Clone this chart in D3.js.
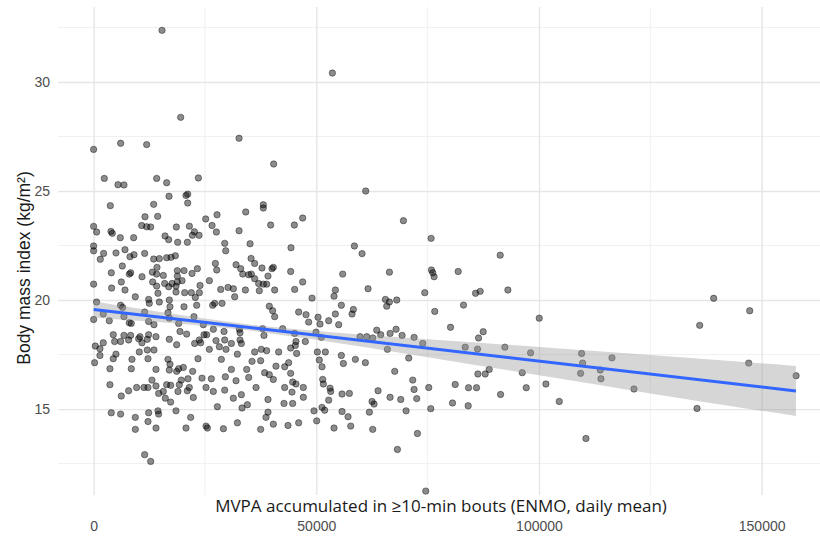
<!DOCTYPE html>
<html>

<head>
  <script src="https://d3js.org/d3.v7.min.js"></script>
  <style>
    body { margin: 0; background: #fff; }
    text { font-family: "Open Sans", "Noto Sans", sans-serif; }
  </style>
</head>

<body>
  <svg id="bmi" height="536" width="820"></svg>
  <script>
    // values (x = MVPA, y = BMI), same order in both arrays
    const mvpa = [
      15355, 19549, 32656, 0, 6067, 11909, 2397, 5468, 6816, 14156,
      16403, 23519, 16927, 20747, 21122, 21122, 13482, 3745, 11535, 14381,
      25166, 27713, 34154, 0, 674, 3895, 4194, 5992, 8988, 10786,
      11909, 12808, 18575, 21496, 22620, 22170, 23668, 16029, 16853, 18875,
      21047, 26590, 27563, 32656, 29436, 29660, 35128, 0, 0, 2247,
      5018, 7041, 9063, 8164, 11460, 13482, 14755, 16403, 17377, 18351,
      35353, 1498,
      14231, 6441, 3970, 8014, 8314, 10861, 13182, 14156, 15654, 18800, 18800, 20298, 22096, 23294, 27638, 27338, 31982, 33031, 33480, 34828,
      0, 4045, 6217, 7041, 13257, 14156, 15954, 16853, 17602, 18800, 18500, 19849, 23893, 25990, 28537, 30185, 31383, 34080,
      12209, 9362, 14006, 20747, 25241, 25541, 29136, 32282, 11460, 12808,
      53606, 40424, 61096, 38102, 38102, 39749, 45067, 46940, 69560, 75776, 44318, 58549, 60272,
      36155, 37802, 35406, 36155, 37053, 38102, 39151, 40349, 40049, 37203, 38851, 40649, 44244, 45143, 46940, 55928, 54280, 61621, 66414, 75852, 76151, 76451,
      40349, 37503, 43645, 46041, 50086, 57726, 53980, 62669, 72706, 68212, 74579,
      91296, 81858, 85753, 86802, 93018, 83057, 100059, 139232, 147321, 136086, 80136, 87476, 86427, 83431, 86202, 92344, 98112, 109571, 109796, 116387,
      113766, 113916, 109347, 88824, 86277, 87925, 96239, 81184, 84180, 85978, 97138, 101557, 121331, 147096, 157732, 91371, 80585, 84105, 104553, 135487, 110545,
      // dense block, left part
      9355, 12351, 12501, 14448, 14748, 16995, 17144, 18493, 20440, 21938, 22837, 23136, 23736, 26732, 27181, 28829, 31675, 666, 6059, 6509, 20290,
      0, 2164, 3513, 6808, 8007, 8456, 11452, 12351, 13549, 16695, 16995, 19092, 19391, 22537, 24634, 25383, 26881, 29278, 32724, 32873,
      367, 1415, 2164, 4411, 4711, 6059, 6808, 7857, 8306, 10104, 10403, 10853, 12351, 12051, 13999, 10254, 12051, 13549, 16995, 18642,
      20889, 22687, 23736, 24035, 24784, 25983, 27481, 28230, 29728, 29428, 30926, 32873, 33173, 32274, 36169, 5011, 4411, 1415, 217,
      8606, 8456, 12201, 13999, 16695, 17144, 16995, 18642, 19092, 20140, 19691, 21189, 22238, 23436, 24335, 28679, 26432, 29578, 30926, 31975,
      34371, 34821, 35570, 3662, 3662, 13100,
      6209, 7857, 9654, 11302, 12201, 13999, 16396, 17294, 15646, 14598, 16096, 17294, 18942, 19242, 21039, 21489, 22387, 25234, 26881, 29428,
      31375, 33173, 36469, 3962, 6059, 9355, 12351, 14448, 14598, 18493, 21788, 27780, 33323, 34521,
      // dense block, right part
      49035, 53979, 65513, 65813, 66412, 68060, 74352, 39448, 40197, 40647, 46039, 47687, 48286, 50384, 50833, 52780, 54278, 55627, 55027, 58023,
      58323, 76599, 37950, 38250, 42444, 45141, 49934, 51133, 47537, 45440, 59821, 61319, 62667, 63566, 64465, 66562, 67910, 69258, 71955, 73902,
      37651, 38849, 41545, 44242, 45290, 45590, 50234, 52031, 50683, 51282, 55627, 56076, 58772, 61019, 65963, 70756, 40946, 42894, 43792, 37501,
      38400, 39448, 40347, 44242, 44691, 45440, 42894, 44541, 47088, 51432, 51582, 53080, 53230, 55776, 57424, 67611, 71655, 71955, 75250, 63866,
      39149, 42744, 44691, 47088, 52780, 51282, 51882, 49485, 55776, 57125, 62517, 62967, 66562, 68959, 61918, 70157, 72554, 75700, 39149, 38701
    ];
    const bmi = [
      32.37, 28.38, 27.42, 26.91, 27.19, 27.13, 25.58, 25.29, 25.28, 25.58,
      25.38, 25.60, 24.76, 24.80, 24.86, 24.45, 24.39, 24.33, 23.82, 23.84,
      23.72, 23.91, 24.04, 23.38, 23.12, 23.15, 23.06, 22.86, 22.86, 23.42,
      23.36, 23.35, 23.35, 23.39, 23.13, 22.97, 22.97, 22.94, 22.77, 22.65,
      22.65, 23.42, 23.12, 23.18, 22.60, 22.26, 22.58, 22.48, 22.26, 22.14,
      22.16, 22.31, 22.08, 21.99, 22.14, 21.88, 21.90, 21.94, 21.96, 22.03,
      21.91, 21.87,
      21.50, 21.56, 21.25, 21.19, 21.25, 21.07, 21.28, 21.19, 21.13, 21.35, 21.10, 21.35, 21.22, 21.44, 21.38, 21.68, 21.62, 21.44, 21.19, 21.16,
      20.73, 20.55, 20.83, 20.46, 20.83, 20.64, 20.76, 20.61, 20.76, 20.83, 20.64, 20.89, 20.67, 20.89, 20.49, 20.58, 20.52, 20.46,
      14.43, 14.07, 14.13, 14.13, 14.22, 14.13, 14.10, 14.37, 12.91, 12.60,
      30.41, 26.24, 25.00, 24.37, 24.22, 23.44, 23.44, 23.76, 23.64, 22.83, 22.40, 22.48, 22.13,
      21.68, 21.47, 21.19, 20.98, 20.76, 20.73, 21.10, 21.50, 21.44, 20.43, 20.73, 20.46, 21.31, 20.49, 20.83, 21.19, 20.46, 20.52, 21.28, 21.38, 21.25, 21.07,
      14.31, 14.07, 14.25, 14.37, 14.46, 14.22, 14.13, 14.07, 13.88, 13.15, 11.24,
      22.06, 21.31, 20.31, 20.40, 20.46, 19.77, 19.17, 20.08, 19.51, 18.84, 18.75, 18.55, 18.26, 17.84, 17.75, 17.84, 17.58, 17.55, 17.11, 17.35,
      16.79, 16.39, 16.64, 16.82, 16.61, 16.61, 16.67, 16.13, 15.98, 15.98, 15.98, 16.15, 15.92, 17.11, 16.53, 15.67, 15.28, 15.15, 15.35, 15.03, 13.65,
      // dense block, left part
      20.15, 20.03, 19.85, 20.31, 19.91, 20.00, 19.69, 20.37, 20.34, 20.34, 20.12, 19.76, 20.34, 19.76, 19.85, 19.85, 20.15, 19.91, 19.76, 19.66, 19.69,
      19.11, 19.36, 19.05, 19.24, 18.96, 18.93, 19.45, 19.02, 18.87, 19.42, 19.17, 18.93, 18.56, 19.24, 18.87, 18.41, 18.66, 18.56, 18.66, 18.50,
      17.89, 17.77, 18.04, 18.41, 18.10, 18.10, 18.38, 18.17, 18.38, 18.23, 18.32, 18.04, 18.41, 18.20, 18.32, 17.62, 17.71, 17.71, 18.20, 17.95,
      18.44, 18.01, 18.17, 18.04, 18.41, 17.74, 18.14, 17.86, 17.74, 18.17, 18.01, 18.17, 18.01, 17.52, 17.62, 17.52, 17.31, 17.46, 17.13,
      17.28, 16.85, 17.31, 16.82, 17.28, 17.06, 16.79, 16.73, 16.85, 16.91, 16.33, 16.39, 16.73, 17.31, 16.42, 17.28, 16.39, 16.48, 16.82, 16.30,
      16.82, 16.45, 17.19, 16.85, 16.12, 16.33,
      15.60, 15.84, 15.99, 15.99, 15.99, 16.06, 16.12, 16.09, 15.81, 15.72, 15.50, 15.32, 15.81, 16.12, 15.84, 15.99, 15.53, 15.99, 15.81, 15.87,
      15.50, 15.66, 15.99, 14.83, 14.77, 14.62, 14.83, 14.92, 14.77, 14.92, 14.62, 15.11, 15.05, 15.20,
      // dense block, right part
      20.09, 20.18, 20.03, 19.72, 19.91, 20.00, 20.34, 19.72, 19.51, 19.24, 19.45, 19.33, 18.99, 19.21, 18.90, 19.05, 19.36, 19.76, 18.87, 19.36,
      19.57, 19.48, 18.69, 18.38, 18.69, 18.47, 18.53, 18.29, 18.10, 18.10, 18.32, 18.32, 18.26, 18.62, 18.41, 18.47, 18.66, 18.38, 18.29, 18.01,
      17.74, 17.68, 17.62, 17.80, 17.92, 17.55, 17.62, 17.62, 17.25, 16.94, 17.46, 17.09, 17.28, 17.13, 17.74, 17.34, 16.97, 16.94, 17.13, 17.22,
      16.67, 16.58, 16.36, 16.64, 16.24, 16.15, 15.99, 15.78, 15.99, 16.36, 16.15, 15.96, 15.81, 15.69, 15.72, 16.73, 16.33, 15.90, 15.99, 15.84,
      15.44, 15.26, 15.26, 15.54, 15.41, 15.08, 14.95, 14.92, 14.89, 14.65, 15.35, 15.23, 15.54, 15.44, 14.86, 14.92, 15.48, 15.02, 14.86, 14.62
    ];

    // linear fit and its confidence band
    const fitX = [0, 157700];
    const fitY = [19.57, 15.83];
    const bandX = [0, 10000, 20000, 35000, 50000, 75000, 100000, 125000, 157700];
    const bandLow = [19.20, 19.05, 18.90, 18.60, 18.18, 17.38, 16.55, 15.72, 14.68];
    const bandHigh = [19.94, 19.61, 19.30, 18.88, 18.58, 18.20, 17.85, 17.48, 16.98];

    const xTicks = [0, 50000, 100000, 150000];
    const xMinor = [25000, 75000, 125000];
    const yTicks = [15, 20, 25, 30];
    const yMinor = [12.5, 17.5, 22.5, 27.5, 32.5];

    const data = d3.zip(mvpa, bmi);

    let svg = d3.select('svg#bmi');
    const panel = { left: 58, right: 820, top: 7, bottom: 495 };
    const xScale = d3.scaleLinear().domain([-8000, 163100]).range([panel.left, panel.right]);
    const yScale = d3.scaleLinear().domain([11.06, 33.44]).range([panel.bottom, panel.top]);

    //gridlines
    let grid = svg.append('g');
    grid.selectAll('line.vminor').data(xMinor)
      .join('line')
      .attr('x1', d => xScale(d)).attr('x2', d => xScale(d))
      .attr('y1', panel.top).attr('y2', panel.bottom)
      .attr('stroke', '#f0f0f0').attr('stroke-width', 1);
    grid.selectAll('line.hminor').data(yMinor)
      .join('line')
      .attr('y1', d => yScale(d)).attr('y2', d => yScale(d))
      .attr('x1', panel.left).attr('x2', panel.right)
      .attr('stroke', '#f0f0f0').attr('stroke-width', 1);
    let verticalGridlines = d3.axisBottom(xScale).tickValues(xTicks).tickSize(-(panel.bottom - panel.top)).tickFormat("");
    grid.append('g')
      .attr('class', 'vgridlines')
      .attr('transform', `translate(0,${panel.bottom})`)
      .call(verticalGridlines);
    let horizontalGridlines = d3.axisLeft(yScale).tickValues(yTicks).tickSize(-(panel.right - panel.left)).tickFormat("");
    grid.append('g')
      .attr('class', 'hgridlines')
      .attr('transform', `translate(${panel.left},0)`)
      .call(horizontalGridlines);
    grid.selectAll('.domain').remove();
    grid.selectAll('.tick line').attr('stroke', '#e6e6e6').attr('stroke-width', 1.4);

    //points
    svg.append('g').selectAll('circle').data(data)
      .join('circle')
      .attr('cx', d => xScale(d[0]))
      .attr('cy', d => yScale(d[1]))
      .attr('r', 3.2)
      .attr('fill', '#000')
      .attr('fill-opacity', 0.45)
      .attr('stroke', '#000')
      .attr('stroke-opacity', 0.5)
      .attr('stroke-width', 0.8);

    //confidence band and fit
    const band = d3.area()
      .x(d => xScale(d[0]))
      .y0(d => yScale(d[1]))
      .y1(d => yScale(d[2]))
      .curve(d3.curveMonotoneX);
    svg.append('path')
      .datum(d3.zip(bandX, bandLow, bandHigh))
      .attr('d', band)
      .attr('fill', '#999999')
      .attr('fill-opacity', 0.4);
    svg.append('path')
      .datum(d3.zip(fitX, fitY))
      .attr('d', d3.line().x(d => xScale(d[0])).y(d => yScale(d[1])))
      .attr('fill', 'none')
      .attr('stroke', '#3366ff')
      .attr('stroke-width', 3);

    //tick labels
    const tickFont = '"Liberation Sans", Arial, sans-serif';
    let bottomAxis = d3.axisBottom(xScale).tickValues(xTicks).tickSize(0).tickPadding(0).tickFormat(d3.format('d'));
    let xAxis = svg.append('g')
      .attr('transform', 'translate(0,531)')
      .call(bottomAxis);
    xAxis.selectAll('text').attr('dy', 0);
    let leftAxis = d3.axisLeft(yScale).tickValues(yTicks).tickSize(0).tickPadding(0);
    let yAxis = svg.append('g')
      .attr('transform', 'translate(50,0)')
      .call(leftAxis);
    svg.selectAll('.domain').remove();
    [xAxis, yAxis].forEach(a => a.selectAll('text')
      .style('font-size', '14px')
      .style('font-family', tickFont)
      .attr('fill', '#4d4d4d'));

    //axis titles
    svg.append('text')
      .attr('x', 441)
      .attr('y', 512)
      .style('text-anchor', 'middle')
      .style('font-size', '17px')
      .attr('fill', '#1a1a1a')
      .text('MVPA accumulated in ≥10-min bouts (ENMO, daily mean)');

    svg.append('text')
      .attr('transform', 'rotate(-90)')
      .attr('x', -268)
      .attr('y', 30)
      .style('text-anchor', 'middle')
      .style('font-size', '17.5px')
      .style('font-family', tickFont)
      .attr('fill', '#1a1a1a')
      .text('Body mass index (kg/m²)');
  </script>
</body>

</html>
